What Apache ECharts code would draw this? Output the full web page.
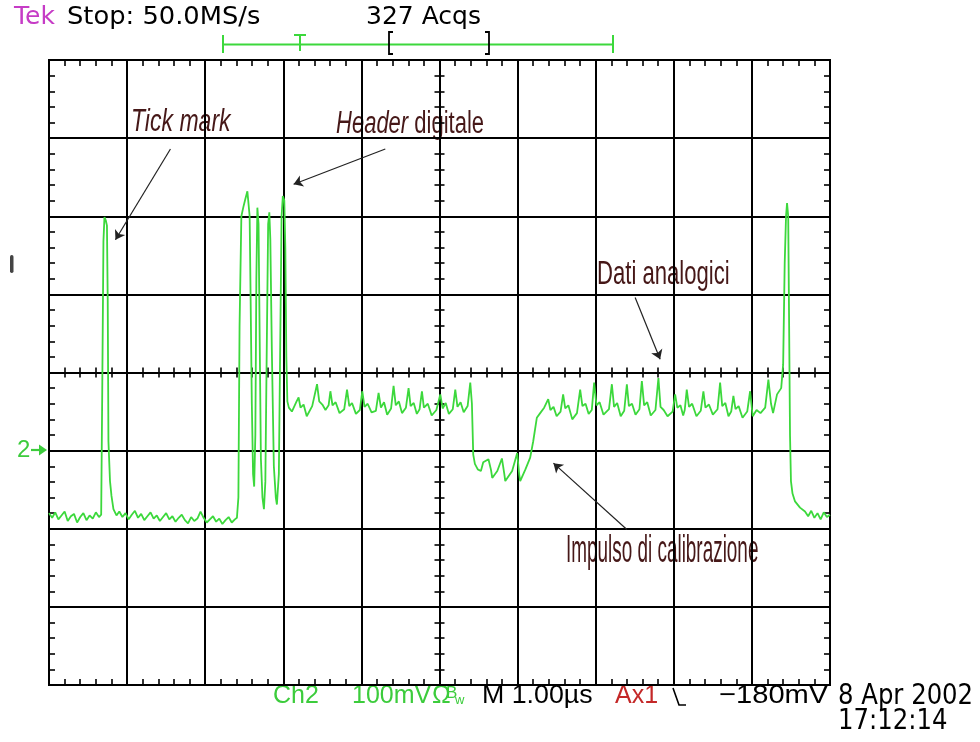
<!DOCTYPE html>
<html><head><meta charset="utf-8">
<script src="https://cdn.jsdelivr.net/npm/echarts@6/dist/echarts.min.js"></script>
<style>html,body{margin:0;padding:0;background:#fff}#c{width:980px;height:742px}</style>
</head><body><div id="c"></div>
<script>
// ---- axis settings (time in µs, Ch2 in mV relative to the "2→" ground marker)
const timeTicks = [0, 10, 1];      // min, max, interval (µs, 1.00 µs/div)
const voltTicks = [-300, 500, 100]; // min, max, interval (mV, 100 mV/div)

// ---- Ch2 trace, [µs, mV] pairs
const baselineStart = [[0,-80],[0.04,-86],[0.08,-79],[0.12,-88],[0.16,-83],[0.20,-78],[0.24,-90],[0.28,-84],[0.32,-81],[0.36,-92],[0.40,-85],[0.44,-80],[0.48,-89],[0.52,-83],[0.56,-87],[0.60,-79],[0.64,-85]];
const tickMarkPulse = [[0.668,-82],[0.681,68],[0.697,268],[0.710,299],[0.729,294],[0.742,288],[0.752,191],[0.761,12],[0.781,-39],[0.800,-58],[0.825,-75],[0.864,-83]];
const baselineMid = [[0.90,-78],[0.94,-85],[0.98,-80],[1.02,-88],[1.06,-82],[1.10,-77],[1.14,-86],[1.18,-81],[1.22,-89],[1.26,-84],[1.30,-79],[1.34,-87],[1.38,-83],[1.42,-90],[1.46,-85],[1.50,-80],[1.54,-88],[1.58,-84],[1.62,-91],[1.66,-86],[1.70,-82],[1.74,-89],[1.78,-93],[1.82,-85],[1.86,-90],[1.90,-87],[1.94,-78],[1.98,-86],[2.02,-92],[2.06,-88],[2.10,-84],[2.14,-91],[2.18,-87],[2.22,-94],[2.26,-89],[2.30,-85],[2.34,-92],[2.38,-88]];
const digitalHeader = [[2.406,-86],[2.425,-60],[2.440,160],[2.463,300],[2.489,312],[2.514,322],[2.540,332],[2.556,334],[2.569,300],[2.580,208],[2.597,60],[2.613,-30],[2.627,-46],[2.642,20],[2.655,220],[2.668,311],[2.683,290],[2.697,150],[2.713,-10],[2.733,-60],[2.752,-75],[2.770,-40],[2.787,120],[2.806,290],[2.821,305],[2.834,270],[2.853,130],[2.879,-20],[2.904,-60],[2.918,-69],[2.943,-30],[2.962,150],[2.978,300],[2.994,326],[3.013,320],[3.026,260],[3.039,120],[3.052,63]];
const analogDataA = [[3.071,55],[3.110,50],[3.170,63],[3.196,68],[3.220,55],[3.260,59],[3.300,44],[3.370,57],[3.432,85],[3.460,63],[3.500,59],[3.540,52],[3.580,58],[3.603,76],[3.630,58],[3.670,62],[3.720,48],[3.780,53],[3.816,78],[3.845,57],[3.880,61],[3.930,47],[3.980,52],[4.011,76],[4.040,56],[4.080,60],[4.130,49],[4.185,51],[4.220,74],[4.250,55],[4.290,62],[4.330,46],[4.380,54],[4.412,83],[4.440,58],[4.480,63],[4.520,48],[4.570,55],[4.604,80],[4.630,57],[4.670,61],[4.710,47],[4.745,53],[4.775,76],[4.800,55],[4.850,60],[4.900,45],[4.960,52],[5.010,72],[5.040,54],[5.080,61],[5.120,47],[5.170,53],[5.202,78],[5.230,56],[5.270,62],[5.310,49],[5.360,57],[5.394,87]];
const calibrationPulse = [[5.415,60],[5.432,-5],[5.453,-17],[5.490,-24],[5.530,-26],[5.560,-15],[5.627,-11],[5.660,-25],[5.675,-35],[5.740,-26],[5.799,-10],[5.830,-30],[5.842,-39],[5.930,-26],[5.995,-3],[6.020,-30],[6.033,-39],[6.100,-24],[6.161,-9],[6.200,12],[6.246,42],[6.289,48],[6.340,55]];
const analogDataB = [[6.392,66],[6.420,52],[6.460,56],[6.500,44],[6.550,50],[6.583,72],[6.610,54],[6.650,58],[6.700,40],[6.760,48],[6.801,78],[6.830,57],[6.870,60],[6.910,47],[6.950,52],[6.980,87],[7.010,58],[7.050,62],[7.100,46],[7.170,53],[7.207,85],[7.235,56],[7.275,61],[7.320,44],[7.365,51],[7.399,85],[7.425,57],[7.465,60],[7.510,46],[7.560,53],[7.591,89],[7.620,58],[7.660,62],[7.705,45],[7.765,52],[7.803,93],[7.830,56],[7.870,52],[7.920,44],[7.985,50],[8.017,72],[8.045,55],[8.085,58],[8.120,45],[8.140,52],[8.166,78],[8.195,56],[8.235,60],[8.290,44],[8.345,51],[8.379,76],[8.405,55],[8.450,59],[8.500,46],[8.560,53],[8.593,87],[8.620,57],[8.660,61],[8.700,44],[8.735,50],[8.763,70],[8.790,53],[8.830,57],[8.880,42],[8.940,50],[8.977,76],[9.010,44],[9.060,52],[9.110,48],[9.170,55],[9.211,91],[9.245,60],[9.271,48],[9.322,72],[9.375,80]];
const tickMarkPulse2 = [[9.400,110],[9.420,240],[9.437,300],[9.450,317],[9.465,300],[9.475,180],[9.488,20],[9.500,-39],[9.520,-55],[9.552,-65],[9.616,-73]];
const baselineEnd = [[9.680,-78],[9.72,-84],[9.76,-77],[9.80,-86],[9.84,-80],[9.88,-88],[9.92,-79],[9.96,-85],[10.00,-82]];

// annotation arrows: [fromµs, frommV, toµs, tomV]
const arrowCoords = [[1.555,386,0.851,270],[4.306,386,3.132,341],[7.505,196,7.825,117],[7.399,-101,6.459,-16]];

const ch2Trace = [].concat(baselineStart, tickMarkPulse, baselineMid, digitalHeader, analogDataA, calibrationPulse, analogDataB, tickMarkPulse2, baselineEnd);

const GREEN = '#3cd83c', TXTGREEN = '#3ccc3c', ANN = '#461818';
const SANS = 'Liberation Sans, Arial, sans-serif', DJV = 'DejaVu Sans, sans-serif';

function ax(dim, pos, offset, inside, len, split) {
  const r = dim === 'x' ? timeTicks : voltTicks;
  return {
    type: 'value', gridIndex: 0, position: pos, offset: offset,
    min: r[0], max: r[1], interval: r[2],
    axisLine: { show: true, onZero: false, lineStyle: { color: '#000', width: 2 } },
    axisTick: { show: false, inside: inside },
    minorTick: { show: true, splitNumber: 5, length: len, lineStyle: { color: '#000', width: 1.6 } },
    axisLabel: { show: false },
    splitLine: { show: split, lineStyle: { color: '#000', width: 2 } },
    minorSplitLine: { show: false },
    axisPointer: { show: false },
    silent: true
  };
}

function txt(x, y, text, size, color, family, extra) {
  const e = { type: 'text', x: x, y: y, silent: true,
    style: Object.assign({ text: text, fill: color, fontSize: size, fontFamily: family, align: 'left', verticalAlign: 'middle' }, (extra && extra.style) || {}) };
  if (extra) { if (extra.scaleX) e.scaleX = extra.scaleX; if (extra.scaleY) e.scaleY = extra.scaleY; }
  return e;
}
function seg(x1, y1, x2, y2, color, w) {
  return { type: 'line', silent: true, shape: { x1: x1, y1: y1, x2: x2, y2: y2 }, style: { stroke: color, lineWidth: w } };
}
function pline(pts, color, w) {
  return { type: 'polyline', silent: true, shape: { points: pts }, style: { stroke: color, lineWidth: w, fill: null } };
}

const graphics = [
  txt(14, 17, 'Tek', 25, '#c63cc6', DJV),
  txt(67, 17, 'Stop: 50.0MS/s', 25, '#000', DJV, { scaleX: 1.03 }),
  txt(366, 17, '327 Acqs', 25, '#000', DJV),
  seg(223, 44.5, 613, 44.5, GREEN, 2),
  seg(223, 35, 223, 53, GREEN, 2),
  seg(613, 35, 613, 53, GREEN, 2),
  seg(294, 35, 306, 35, GREEN, 2),
  seg(300, 35, 300, 51, GREEN, 2),
  pline([[393, 32], [389, 32], [389, 54], [393, 54]], '#000', 1.8),
  pline([[485, 32], [489, 32], [489, 54], [485, 54]], '#000', 1.8),
  { type: 'rect', silent: true, shape: { x: 10, y: 255, width: 3.5, height: 18, r: 1.7 }, style: { fill: '#444' } },
  txt(17, 450, '2', 24, TXTGREEN, SANS),
  seg(31, 450, 41, 450, TXTGREEN, 2.2),
  { type: 'polygon', silent: true, shape: { points: [[39, 444.5], [47, 450], [39, 455.5]] }, style: { fill: TXTGREEN } },
  // bottom readout
  txt(273, 696, 'Ch2', 25, TXTGREEN, SANS),
  txt(352, 696, '100mV', 25, TXTGREEN, SANS),
  txt(432, 696, 'Ω', 25, TXTGREEN, SANS),
  txt(446, 693, 'B', 17, TXTGREEN, SANS),
  txt(455, 700, 'w', 13, TXTGREEN, SANS),
  txt(482, 696, 'M 1.00µs', 25, '#000', SANS, { scaleX: 1.07 }),
  txt(615, 696, 'Ax1', 25, '#c42828', SANS),
  pline([[673, 688], [679, 705], [686, 705]], '#000', 1.6),
  txt(719, 696, '\u2212180mV', 26, '#000', SANS, { scaleX: 1.12 }),
  txt(838, 697, '8 Apr 2002', 28, '#000', DJV, { scaleX: 0.87 }),
  txt(838, 722, '17:12:14', 28, '#000', DJV, { scaleX: 0.87 }),
  // annotations
  txt(131, 122, 'Tick mark', 32, ANN, SANS, { scaleX: 0.72, style: { fontStyle: 'italic' } }),
  { type: 'text', x: 336, y: 124, scaleX: 0.71, silent: true,
    style: { text: '{i|Header} digitale', fill: ANN, fontSize: 31, fontFamily: SANS, align: 'left', verticalAlign: 'middle',
      rich: { i: { fontStyle: 'italic', fontSize: 31, fontFamily: SANS, fill: ANN } } } },
  txt(597, 275, 'Dati analogici', 33, ANN, SANS, { scaleX: 0.67 }),
  txt(566, 551, 'Impulso di calibrazione', 39, ANN, SANS, { scaleX: 0.485 })
];

const option = {
  animation: false,
  backgroundColor: '#fff',
  grid: { left: 49, top: 60, width: 781, height: 625, show: true, borderColor: '#000', borderWidth: 2, backgroundColor: '#fff', containLabel: false, outerBoundsMode: 'none' },
  xAxis: [
    ax('x', 'bottom', 0, true, 6, true),
    ax('x', 'top', 0, true, 6, false),
    ax('x', 'bottom', -312.5, false, 5, false),
    ax('x', 'bottom', -312.5, true, 5, false)
  ],
  yAxis: [
    ax('y', 'left', 0, true, 6, true),
    ax('y', 'right', 0, true, 6, false),
    ax('y', 'left', -390.5, false, 5, false),
    ax('y', 'left', -390.5, true, 5, false)
  ],
  series: [{
    type: 'line', xAxisIndex: 0, yAxisIndex: 0, data: ch2Trace,
    showSymbol: false, symbol: 'none', smooth: false, silent: true, z: 5,
    lineStyle: { color: GREEN, width: 1.8 },
    markLine: {
      silent: true, symbol: ['none', 'arrow'], symbolSize: 9,
      label: { show: false },
      lineStyle: { color: '#222', width: 1.2, type: 'solid' },
      emphasis: { disabled: true },
      data: arrowCoords.map(a => [{ coord: [a[0], a[1]] }, { coord: [a[2], a[3]] }])
    }
  }],
  graphic: graphics
};
const chart = echarts.init(document.getElementById('c'));
chart.setOption(option);
</script></body></html>
